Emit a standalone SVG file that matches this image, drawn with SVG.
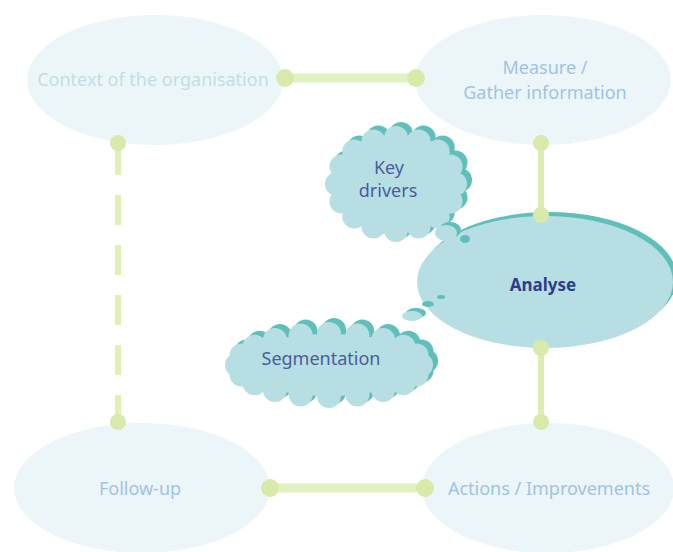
<svg xmlns="http://www.w3.org/2000/svg" width="673" height="552" viewBox="0 0 673 552">
<style>
.bg{fill:#ecf6f8}
.ln{stroke:#e2f1c2;stroke-linecap:butt;fill:none}
.dot{fill:#d8eaa9}
.t{font-family:"Noto Sans","Open Sans",sans-serif;font-size:18px;text-anchor:middle}
.pale{fill:#c4dde4}
.lb{fill:#9fc2ea}
.cl{fill:#b7dfe3}
.sh{fill:#5fbfbb}
.ct{fill:#4a5c9e}
</style>
<defs>
<g id="kd">
<ellipse cx="396" cy="184" rx="60" ry="47"/>
<circle cx="455" cy="184" r="12"/><circle cx="450.5" cy="166.4" r="12"/><circle cx="437.7" cy="151.5" r="12"/><circle cx="418.6" cy="141.5" r="12"/><circle cx="396" cy="138" r="12"/><circle cx="373.4" cy="141.5" r="12"/><circle cx="354.3" cy="151.5" r="12"/><circle cx="341.5" cy="166.4" r="12"/><circle cx="337" cy="184" r="12"/><circle cx="341.5" cy="201.6" r="12"/><circle cx="354.3" cy="216.5" r="12"/><circle cx="373.4" cy="226.5" r="12"/><circle cx="396" cy="230" r="12"/><circle cx="418.6" cy="226.5" r="12"/><circle cx="437.7" cy="216.5" r="12"/><circle cx="450.5" cy="201.6" r="12"/>
</g>
<g id="sg">
<ellipse cx="329" cy="365" rx="92" ry="31"/>
<circle cx="421" cy="365" r="12"/><circle cx="416.5" cy="355.4" r="12"/><circle cx="403.4" cy="346.8" r="12"/><circle cx="383.1" cy="339.9" r="12"/><circle cx="357.4" cy="335.5" r="12"/><circle cx="329" cy="334" r="12"/><circle cx="300.6" cy="335.5" r="12"/><circle cx="274.9" cy="339.9" r="12"/><circle cx="254.6" cy="346.8" r="12"/><circle cx="241.5" cy="355.4" r="12"/><circle cx="237" cy="365" r="12"/><circle cx="241.5" cy="374.6" r="12"/><circle cx="254.6" cy="383.2" r="12"/><circle cx="274.9" cy="390.1" r="12"/><circle cx="300.6" cy="394.5" r="12"/><circle cx="329" cy="396" r="12"/><circle cx="357.4" cy="394.5" r="12"/><circle cx="383.1" cy="390.1" r="12"/><circle cx="403.4" cy="383.2" r="12"/><circle cx="416.5" cy="374.6" r="12"/>
</g>
</defs>
<rect width="673" height="552" fill="#ffffff"/>

<g id="context">
<ellipse class="bg" cx="155" cy="80" rx="128" ry="65"/>
<text class="t pale" x="153" y="86">Context of the organisation</text>
</g>
<g id="measure">
<ellipse class="bg" cx="543" cy="80" rx="128" ry="65"/>
<text class="t lb" x="545" y="74">Measure /</text>
<text class="t lb" x="545" y="99">Gather information</text>
</g>
<g id="followup">
<ellipse class="bg" cx="142" cy="488" rx="128" ry="65"/>
<text class="t lb" x="140" y="495">Follow-up</text>
</g>
<g id="actions">
<ellipse class="bg" cx="548" cy="488" rx="126" ry="65"/>
<text class="t lb" x="549" y="495">Actions / Improvements</text>
</g>

<g id="analyse">
<ellipse class="sh" cx="549" cy="278" rx="128" ry="66"/>
<ellipse class="cl" cx="545" cy="282" rx="128" ry="66"/>
<text x="543" y="291" font-family="Noto Sans, Open Sans, sans-serif" font-size="17" font-weight="bold" fill="#2d3d8c" text-anchor="middle">Analyse</text>
</g>

<g id="keydrivers">
<use href="#kd" class="sh" transform="translate(5,-4)"/>
<use href="#kd" class="cl"/>
<ellipse class="sh" cx="450" cy="230" rx="11" ry="8"/>
<ellipse class="cl" cx="446" cy="233" rx="11" ry="8"/>
<ellipse class="sh" cx="465" cy="239" rx="5" ry="4"/>
<text class="t ct" x="389" y="174">Key</text>
<text class="t ct" x="388" y="197">drivers</text>
</g>

<g id="segmentation">
<use href="#sg" class="sh" transform="translate(5,-4)"/>
<use href="#sg" class="cl"/>
<ellipse class="sh" cx="416" cy="313" rx="10" ry="5"/>
<ellipse class="cl" cx="412" cy="316" rx="10" ry="5"/>
<ellipse class="sh" cx="428" cy="304" rx="6" ry="3"/>
<ellipse class="sh" cx="441" cy="297" rx="4" ry="2"/>
<text class="t ct" x="321" y="365">Segmentation</text>
</g>

<g id="connectors">
<line class="ln" x1="283" y1="78" x2="418" y2="78" stroke-width="9"/>
<circle class="dot" cx="285" cy="78" r="9"/><circle class="dot" cx="416" cy="78" r="9"/>
<line class="ln" x1="541" y1="143" x2="541" y2="215" stroke-width="6" style="stroke:#dcedb0"/>
<circle class="dot" cx="541" cy="143" r="8"/><circle class="dot" cx="541" cy="215" r="8"/>
<line class="ln" x1="541" y1="348" x2="541" y2="422" stroke-width="6" style="stroke:#dcedb0"/>
<circle class="dot" cx="541" cy="348" r="8"/><circle class="dot" cx="541" cy="422" r="8"/>
<line class="ln" x1="118" y1="145" x2="118" y2="422" stroke-width="6" stroke-dasharray="30 20" style="stroke:#e0efb3"/>
<circle class="dot" cx="118" cy="143" r="8"/><circle class="dot" cx="118" cy="422" r="8"/>
<line class="ln" x1="270" y1="488" x2="425" y2="488" stroke-width="9"/>
<circle class="dot" cx="270" cy="488" r="9"/><circle class="dot" cx="425" cy="488" r="9"/>
</g>
</svg>
